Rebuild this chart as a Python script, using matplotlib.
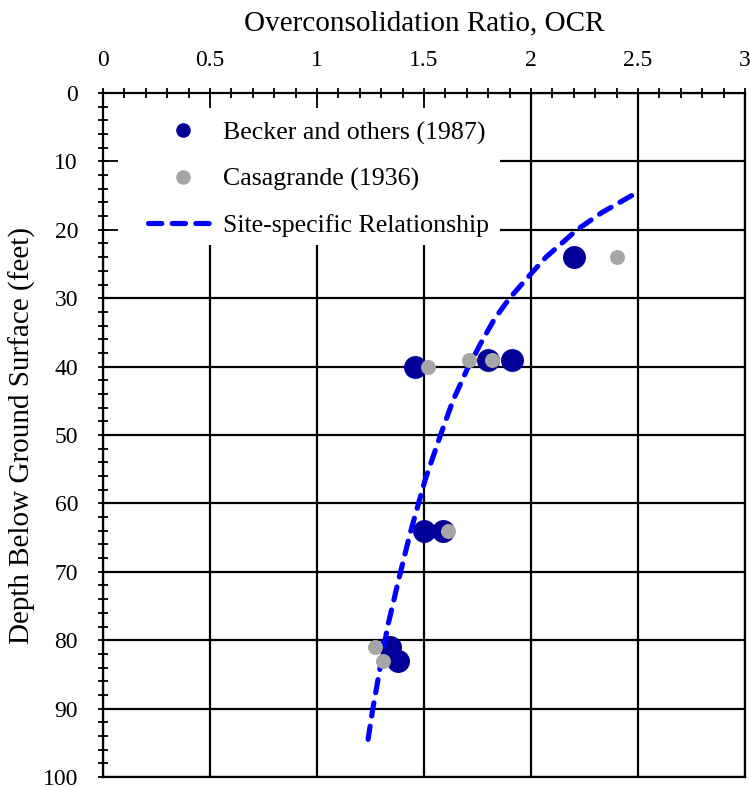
import matplotlib
matplotlib.use("Agg")
import matplotlib.pyplot as plt
from matplotlib.ticker import MultipleLocator
from matplotlib.patches import Rectangle
from matplotlib.lines import Line2D

plt.rcParams['font.family'] = ['Liberation Serif', 'DejaVu Serif']

# Data
becker_ocr = [2.20, 1.46, 1.80, 1.91, 1.50, 1.59, 1.34, 1.38]
becker_depth = [24, 40, 39, 39, 64, 64, 81, 83]
casa_ocr = [2.40, 1.52, 1.71, 1.82, 1.61, 1.27, 1.31]
casa_depth = [24, 40, 39, 39, 64, 81, 83]
site_depth = [15, 17.5, 20, 24, 26.6, 30, 33, 36.6, 40.5, 45, 50.2, 56.6, 64.4, 70.7, 78, 84, 90.2, 94.8]
site_ocr = [2.47, 2.33, 2.215, 2.07, 1.995, 1.90, 1.83, 1.765, 1.70, 1.635, 1.575, 1.505, 1.435, 1.385, 1.33, 1.295, 1.26, 1.237]

x_ticks = [0, 0.5, 1, 1.5, 2, 2.5, 3]
x_tick_labels = ['0', '0.5', '1', '1.5', '2', '2.5', '3']
y_ticks = [0, 10, 20, 30, 40, 50, 60, 70, 80, 90, 100]
y_tick_labels = [str(v) for v in y_ticks]

FS_TICK = 17
FS_LABEL = 21
FS_LEG = 18.6
W, H = 750, 788
fig = plt.figure(figsize=(W / 100, H / 100), dpi=100)
pos = [103 / W, 1 - 777 / H, (745 - 103) / W, (777 - 93) / H]

ax = fig.add_axes(pos)
ax.set_xlim(0, 3)
ax.set_ylim(100, 0)
ax.set_xticks(x_ticks)
ax.set_yticks(y_ticks)
ax.grid(True, color='black', linewidth=1.6)
ax.tick_params(which='both', length=0, labelleft=False, labelbottom=False)
for s in ax.spines.values():
    s.set_visible(False)

DASH = (0, (2.6, 2.0))
ax.plot(becker_ocr, becker_depth, 'o', color='#000099', markersize=16.5,
        markeredgewidth=0, zorder=3)
ax.plot(site_ocr, site_depth, linestyle=DASH, color='#0000FF',
        linewidth=3.7, dash_capstyle='round', zorder=4)
ax.plot(casa_ocr, casa_depth, 'o', color='#A6A6A6', markersize=10.8,
        markeredgewidth=0, zorder=5)

# legend background
ax.add_patch(Rectangle((0, 1 - (245 - 93) / 684), (500 - 103) / 642, (245 - 93) / 684,
                       transform=ax.transAxes, facecolor='white', edgecolor='none',
                       zorder=6))
handles = [
    Line2D([], [], marker='o', linestyle='none', color='#000099', markersize=10.5,
           markeredgewidth=0),
    Line2D([], [], marker='o', linestyle='none', color='#A6A6A6', markersize=10.5,
           markeredgewidth=0),
    Line2D([], [], linestyle=DASH, color='#0000FF', linewidth=3.7,
           dash_capstyle='round'),
]
labels = ['Becker and others (1987)', 'Casagrande (1936)', 'Site-specific Relationship']
leg = ax.legend(handles, labels, loc='upper left',
                bbox_to_anchor=((148 - 103) / 642, 1 - (121 - 93) / 684),
                frameon=False, fontsize=FS_LEG, handlelength=2.71, handletextpad=0.19,
                labelspacing=0.89, borderpad=0, borderaxespad=0)
leg.set_zorder(7)

# overlay axes for spines, ticks and labels
ax2 = fig.add_axes(pos, sharex=ax, sharey=ax)
ax2.patch.set_visible(False)
ax2.xaxis.set_ticks_position('top')
ax2.xaxis.set_label_position('top')
ax2.set_xticks(x_ticks)
ax2.set_xticklabels(x_tick_labels)
ax2.set_yticks(y_ticks)
ax2.set_yticklabels(y_tick_labels)
ax2.xaxis.set_minor_locator(MultipleLocator(0.1))
ax2.yaxis.set_minor_locator(MultipleLocator(2))
ax2.xaxis.remove_overlapping_locs = False
ax2.yaxis.remove_overlapping_locs = False
ax2.tick_params(which='major', direction='in', length=10.5, width=1.3,
                labelsize=FS_TICK, top=True, bottom=False, left=True, right=False)
ax2.tick_params(axis='y', which='major', pad=18)
ax2.tick_params(axis='x', which='major', pad=16)
ax2.tick_params(which='minor', direction='inout', length=7.5, width=1.3,
                top=True, bottom=False, left=True, right=False)
for s in ax2.spines.values():
    s.set_linewidth(1.6)
ax2.set_xlabel('Overconsolidation Ratio, OCR', fontsize=FS_LABEL, labelpad=14)
ax2.set_ylabel('Depth Below Ground Surface (feet)', fontsize=FS_LABEL, labelpad=5)

fig.savefig('out.png', dpi=100)
